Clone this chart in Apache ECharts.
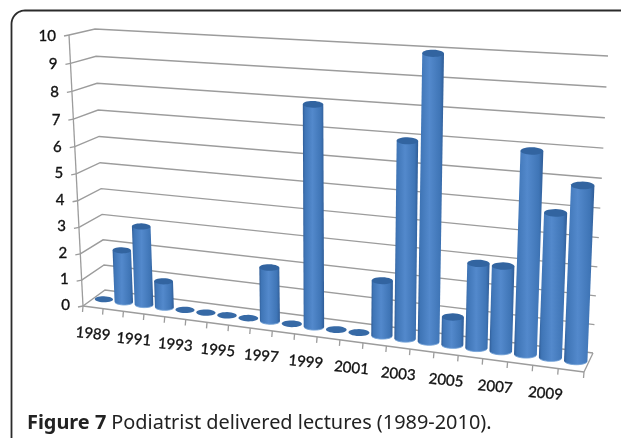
<!DOCTYPE html>
<html>
<head>
<meta charset="utf-8">
<style>html,body{margin:0;padding:0;background:#fff}#c{width:621px;height:438px;filter:blur(0.45px)}</style>
<script src="https://cdn.jsdelivr.net/npm/echarts@6/dist/echarts.min.js"></script>
</head>
<body>
<div id="c"></div>
<script>
const categories = ['1989','1990','1991','1992','1993','1994','1995','1996','1997','1998','1999','2000','2001','2002','2003','2004','2005','2006','2007','2008','2009','2010'];
const lectures = [0,2,3,1,0,0,0,0,2,0,8,0,0,2,7,10,1,3,3,7,5,6];
const yTicks = [0,1,2,3,4,5,6,7,8,9,10];
const captionBold = 'Figure 7';
const captionText = 'Podiatrist delivered lectures (1989-2010).';

// The 3D view: corners of the chart box on the page
const box = {
  fb: [83,306], ft: [69,35],   // front-left bottom / top
  bb: [105,290], bt: [95,29],  // back-left bottom / top
  rfb: [584,372], rft: [594,71], // front-right bottom / top
  rbb: [593,353], rbt: [608,56]  // back-right bottom / top
};
const persp = 1.14, perspV = 1.05;
function lerp(a,b,t){return [a[0]+(b[0]-a[0])*t, a[1]+(b[1]-a[1])*t];}
function project(u,v0,d){
  const w = u/(persp-(persp-1)*u);
  const v = v0/(perspV-(perspV-1)*v0);
  const fl = lerp(box.fb,box.ft,v), bl = lerp(box.bb,box.bt,v);
  const fr = lerp(box.rfb,box.rft,v), br = lerp(box.rbb,box.rbt,v);
  return lerp(lerp(fl,fr,w), lerp(bl,br,w), d);
}
function norm(p,cs){return [(p[0]-cs.x)/cs.width, (cs.y+cs.height-p[1])/cs.height];}
const GRID='#9c9c9c', LINE={stroke:GRID,lineWidth:1.3,fill:null};
const LABEL={font:'15px Lato',fill:'#111',stroke:'#111',lineWidth:0.35};
function line(a,b,style){return {type:'line',shape:{x1:a[0],y1:a[1],x2:b[0],y2:b[1]},style:style||LINE};}

function renderWalls(params,api){
  const cs=params.coordSys;
  const v=norm(api.coord([0,api.value(1)]),cs)[1];
  const f=project(0,v,0), b=project(0,v,1), r=project(1,v,1);
  const kids=[
    {type:'polyline',shape:{points:[f,b,r]},style:{stroke:GRID,lineWidth:1.4,fill:null}},
    line([f[0]-5,f[1]+1],f),
    {type:'text',x:f[0]-13,y:f[1]+(v>0.5?1:-1),style:Object.assign({text:String(api.value(1)),align:'right',verticalAlign:'middle'},LABEL)}
  ];
  if(v===0) kids.push(line(f,project(1,0,0)),line(project(1,0,0),r),line(f,project(0,1,0)));
  return {type:'group',children:kids};
}
function renderXTicks(params,api){
  const cs=params.coordSys, i=api.value(0), half=api.size([1,0])[0]/2;
  const c=norm(api.coord([i,0]),cs);
  const lo=project(c[0]-half/cs.width,0,0);
  const kids=[line(lo,[lo[0]-0.5,lo[1]+6])];
  if(i===categories.length-1){const hi=project(1,0,0);kids.push(line(hi,[hi[0]-0.5,hi[1]+6]));}
  if(i%2===0){
    const m=project(c[0],0,0);
    kids.push({type:'text',x:m[0],y:m[1]+26.5,rotation:-0.09,style:Object.assign({text:categories[i],align:'center',verticalAlign:'middle'},LABEL)});
  }
  return {type:'group',children:kids};
}
function ellipse(c,a,ry,from,to){
  const pts=[];
  for(let k=0;k<=28;k++){
    const t=from+(to-from)*k/28;
    pts.push([c[0]+a[0]*Math.cos(t), c[1]+a[1]*Math.cos(t)+ry*Math.sin(t)]);
  }
  return pts;
}
function renderBar(params,api){
  const cs=params.coordSys, i=api.value(0), val=api.value(1);
  const n0=norm(api.coord([i,0]),cs), n1=norm(api.coord([i,val]),cs);
  const du=0.46*api.size([1,0])[0]/cs.width;
  const B=project(n0[0],0,0.5), T=project(n1[0],n1[1],0.5);
  const L=project(n0[0]-du,0,0.5), R=project(n0[0]+du,0,0.5);
  const a=[(R[0]-L[0])/2,(R[1]-L[1])/2*0.15];
  const ry=Math.abs(a[0])*0.33;
  const kids=[];
  if(val>0){
    const pts=[[T[0]-a[0],T[1]-a[1]],[T[0]+a[0],T[1]+a[1]]].concat(ellipse(B,a,ry,0,Math.PI));
    kids.push({type:'polygon',shape:{points:pts},style:{fill:{type:'linear',x:0,y:0,x2:1,y2:0,colorStops:[
      {offset:0,color:'#2f5c96'},{offset:0.1,color:'#3f75b6'},{offset:0.45,color:'#5389cc'},
      {offset:0.85,color:'#3f75b6'},{offset:1,color:'#2f5c96'}]}}});
    kids.push({type:'polyline',shape:{points:ellipse(B,a,ry,0.35,Math.PI-0.35)},style:{stroke:'#6f9fd6',lineWidth:1,fill:null}});
  }
  kids.push({type:'polygon',shape:{points:ellipse(val>0?T:B,a,ry,0,Math.PI*2)},style:{fill:val>0?'#3264a0':'#376aa6'}});
  return {type:'group',children:kids};
}
const frameCorner=[];
for(let k=0;k<=12;k++){const t=Math.PI+k/12*Math.PI/2;frameCorner.push([25+13.5*Math.cos(t),24+13.5*Math.sin(t)]);}
const option={
  animation:false,
  backgroundColor:'#fff',
  title:{
    left:22,top:408,
    text:'{b|'+captionBold+'} {r|'+captionText+'}',
    textStyle:{rich:{
      b:{fontFamily:'Noto Sans',fontWeight:'bold',fontSize:19.9,color:'#222'},
      r:{fontFamily:'Noto Sans',fontWeight:'normal',fontSize:19.9,color:'#222'}
    }}
  },
  grid:{left:100,right:100,top:80,bottom:120,show:false},
  xAxis:{type:'category',data:categories,show:false},
  yAxis:{type:'value',min:0,max:10,interval:1,show:false},
  graphic:[{
    type:'polyline',silent:true,
    shape:{points:[[11.5,438]].concat(frameCorner,[[621,10.5]])},
    style:{stroke:'#2b2b2b',lineWidth:1.8,fill:null}
  }],
  series:[
    {type:'custom',renderItem:renderWalls,data:yTicks.map(v=>[0,v]),silent:true,clip:false},
    {type:'custom',renderItem:renderXTicks,data:categories.map((c,i)=>[i,0]),silent:true,clip:false},
    {type:'custom',renderItem:renderBar,data:lectures.map((v,i)=>[i,v]),silent:true,clip:false}
  ]
};
const chart=echarts.init(document.getElementById('c'),null,{renderer:'canvas'});
chart.setOption(option);
</script>
</body>
</html>
